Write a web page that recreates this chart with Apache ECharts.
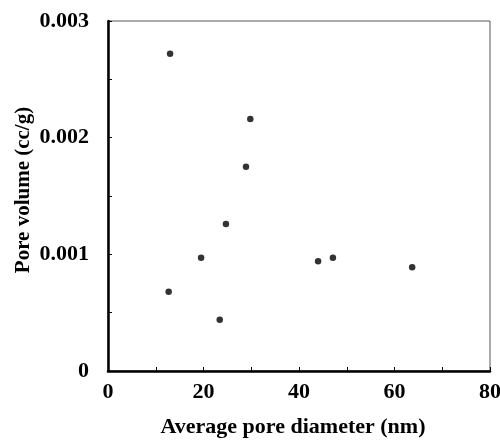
<!DOCTYPE html>
<html><head><meta charset="utf-8">
<script src="https://cdn.jsdelivr.net/npm/echarts@6/dist/echarts.min.js"></script>
<style>html,body{margin:0;padding:0;background:#fff}#c{width:500px;height:441px}</style>
</head><body><div id="c"></div>
<script>
var diameter = [13.0, 29.8, 28.9, 24.7, 19.5, 12.7, 23.4, 44.0, 47.1, 63.7];
var poreVolume = [0.00272, 0.00216, 0.00175, 0.00126, 0.00097, 0.00068, 0.00044, 0.00094, 0.00097, 0.00089];
var xTitle = 'Average pore diameter (nm)';
var yTitle = 'Pore volume (cc/g)';

var pts = diameter.map(function(d, i){ return [d, poreVolume[i]]; });
var font = '"Liberation Serif", "Times New Roman", serif';
var chart = echarts.init(document.getElementById('c'));
chart.setOption({
  animation: false,
  backgroundColor: '#fff',
  grid: {left: 108, right: 10, top: 21, bottom: 70, show: true, borderColor: '#555', borderWidth: 1,
         containLabel: false, outerBoundsMode: 'none'},
  xAxis: {
    type: 'value', min: 0, max: 80, interval: 10,
    name: xTitle, nameLocation: 'middle', nameGap: 45, nameMoveOverlap: false,
    nameTextStyle: {fontFamily: font, fontWeight: 'bold', fontSize: 22, color: '#000', padding: [0, 12, 0, 0]},
    axisLine: {show: true, onZero: false, lineStyle: {color: '#000', width: 2.5}},
    axisTick: {show: true, inside: true, length: 4, lineStyle: {color: '#000', width: 1}},
    splitLine: {show: false},
    axisLabel: {margin: 10, fontFamily: font, fontWeight: 'bold', fontSize: 22, color: '#000',
      formatter: function(v){ return (Math.round(v) % 20 === 0) ? String(Math.round(v)) : ''; }}
  },
  yAxis: {
    type: 'value', min: 0, max: 0.003, interval: 0.0005,
    name: yTitle, nameLocation: 'middle', nameGap: 74, nameRotate: 90, nameMoveOverlap: false,
    nameTextStyle: {fontFamily: font, fontWeight: 'bold', fontSize: 21, color: '#000', padding: [0, 0, 0, 12]},
    axisLine: {show: true, onZero: false, lineStyle: {color: '#000', width: 2.5}},
    axisTick: {show: true, inside: true, length: 4, lineStyle: {color: '#000', width: 1}},
    splitLine: {show: false},
    axisLabel: {margin: 19, fontFamily: font, fontWeight: 'bold', fontSize: 22, color: '#000',
      formatter: function(v){ var k = Math.round(v * 2000); if (k % 2 !== 0) return ''; return k === 0 ? '0' : (k / 2000).toFixed(3); }}
  },
  series: [{
    type: 'scatter', data: pts, symbol: 'circle', symbolSize: 6.5,
    itemStyle: {color: '#000'}
  }]
});
</script></body></html>
